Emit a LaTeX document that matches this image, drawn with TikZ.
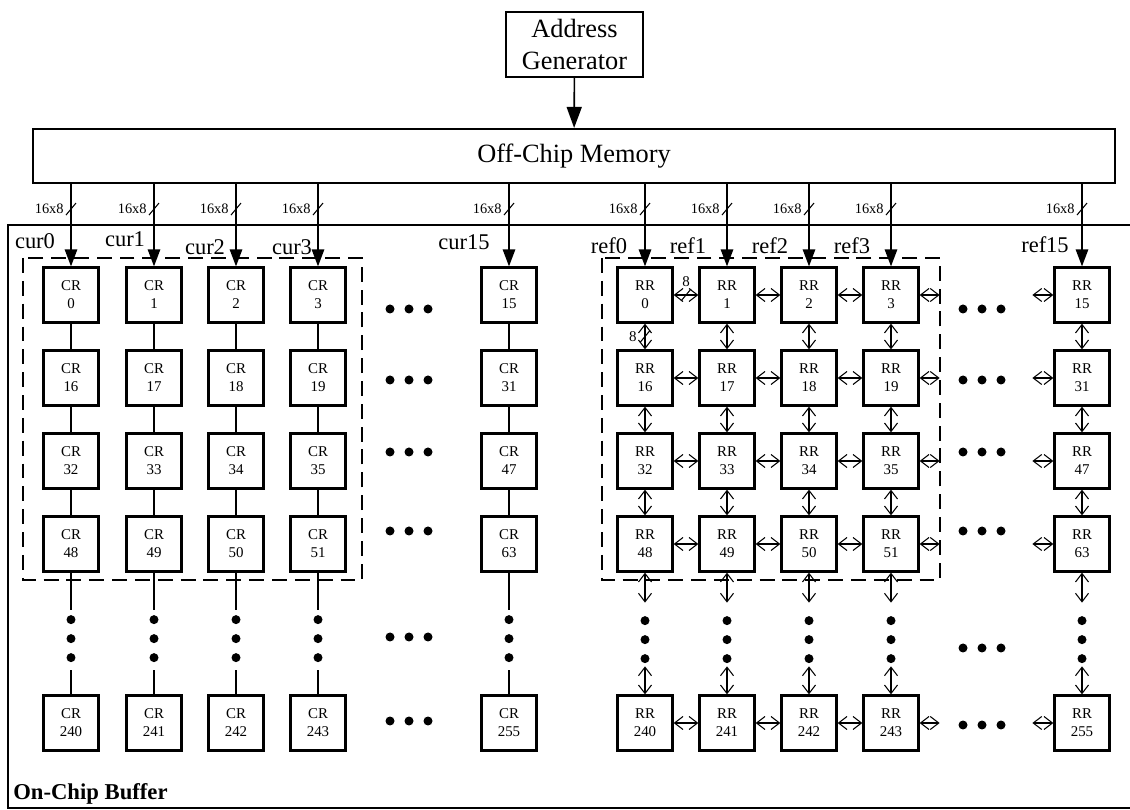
\documentclass[tikz,border=0pt]{standalone}
\usepackage{fontspec}
\setmainfont{Liberation Serif}
\usetikzlibrary{arrows.meta,positioning,calc}
\tikzset{
  cellbox/.style={draw, line width=1.3pt, minimum width=1.1cm, minimum height=1.1cm, inner sep=0pt, align=center, font=\fontsize{8.5}{10.2}\selectfont},
  bigbox/.style={draw, line width=1.2pt, inner sep=0pt, align=center, font=\fontsize{15}{18.7}\selectfont},
  bus/.style={-{Triangle[length=3.4mm,width=2.5mm]}, line width=0.8pt},
  link/.style={{Straight Barb[length=1.7mm,width=2.6mm]}-{Straight Barb[length=1.7mm,width=2.6mm]}, line width=0.6pt},
  wire/.style={line width=0.8pt},
  slash/.style={line width=0.6pt},
  group/.style={dash pattern=on 8.5pt off 4.5pt, line width=1.3pt},
  portlabel/.style={font=\fontsize{12.8}{15}\selectfont, anchor=base, inner sep=0pt},
  widthlabel/.style={font=\fontsize{8.2}{10}\selectfont, inner sep=0pt}
}

\begin{document}
\begin{tikzpicture}[x=0.02cm, y=-0.02cm]
  \useasboundingbox (0,0) rectangle (1130,810);

  \node[bigbox, minimum width=2.74cm, minimum height=1.3cm] (addr) at (574.5,44.5) {Address\\Generator};
  \node[bigbox, minimum width=21.64cm, minimum height=1.08cm] (mem) at (574,156) {Off-Chip Memory};
  \draw[-{Triangle[length=4.2mm,width=3mm]}, line width=0.9pt] (addr) -- (mem);

  % on-chip buffer frame (cut at the right)
  \draw[line width=1.3pt] (1130,225) -- (8,225) -- (8,808) -- (1130,808);
  \node[font=\bfseries\fontsize{12.9}{15}\selectfont, anchor=base west, inner sep=0pt] (bufname) at (13,800) {On-Chip Buffer};

  % current block registers
  \foreach \col/\x in {0/71,1/154,2/236,3/318,15/509}{
    \foreach \row/\y in {0/295,16/378,32/461,48/544,240/723}{
      \pgfmathtruncatemacro{\id}{\row+\col}
      \node[cellbox] (c\id) at (\x,\y) {CR\\\id};
    }
  }
  % reference block registers
  \foreach \col/\x in {0/645,1/727,2/809,3/891,15/1082}{
    \foreach \row/\y in {0/295,16/378,32/461,48/544,240/723}{
      \pgfmathtruncatemacro{\id}{\row+\col}
      \node[cellbox] (r\id) at (\x,\y) {RR\\\id};
    }
  }

  % CR chains
  \foreach \c in {0,1,2,3,15}{
    \foreach \r/\s in {0/16,16/32,32/48}{
      \pgfmathtruncatemacro{\i}{\r+\c}
      \pgfmathtruncatemacro{\j}{\s+\c}
      \draw[wire] (c\i) -- (c\j);
    }
    \pgfmathtruncatemacro{\k}{48+\c}
    \pgfmathtruncatemacro{\m}{240+\c}
    \draw[wire] (c\k.south) -- ++(0,37);
    \draw[wire] (c\m.north) -- ++(0,-24);
    \foreach \d in {47,66,85}
      \fill ($(c\k.south)+(0,\d)$) circle (0.09cm);
  }

  % RR mesh, vertical
  \foreach \c in {0,1,2,3,15}{
    \foreach \r/\s in {0/16,16/32,32/48}{
      \pgfmathtruncatemacro{\i}{\r+\c}
      \pgfmathtruncatemacro{\j}{\s+\c}
      \draw[link] (r\i) -- (r\j);
    }
    \pgfmathtruncatemacro{\k}{48+\c}
    \pgfmathtruncatemacro{\m}{240+\c}
    \draw[link] (r\k.south) -- ++(0,30);
    \draw[link] (r\m.north) -- ++(0,-28);
    \foreach \d in {48,67,86}
      \fill ($(r\k.south)+(0,\d)$) circle (0.09cm);
  }
  % RR mesh, horizontal
  \foreach \r in {0,16,32,48,240}{
    \foreach \c/\e in {0/1,1/2,2/3}{
      \pgfmathtruncatemacro{\i}{\r+\c}
      \pgfmathtruncatemacro{\j}{\r+\e}
      \draw[link] (r\i) -- (r\j);
    }
    \pgfmathtruncatemacro{\k}{\r+3}
    \pgfmathtruncatemacro{\m}{\r+15}
    \draw[link] (r\k.east) -- ++(20,0);
    \draw[link] (r\m.west) -- ++(-21,0);
  }

  % skipped columns
  \foreach \y in {309,380,452,531,637,721}
    \foreach \dx in {-19,0,19}
      \fill (409+\dx,\y) circle (0.09cm);
  \foreach \y in {309,380,452,531,648,725}
    \foreach \dx in {-19,0,19}
      \fill (982+\dx,\y) circle (0.09cm);

  % memory buses
  \foreach \n in {c0,c1,c2,c3,c15,r0,r1,r2,r3,r15}{
    \draw[bus] (mem.south -| \n) -- (\n.north);
    \draw[slash] ($(mem.south -| \n)+(-5,31)$) -- ++(10,-12);
    \node[widthlabel, anchor=east] (w\n) at ($(mem.south -| \n)+(-7,25)$) {16x8};
  }

  % 8-bit link widths
  \coordinate (hmid) at ($(r0.east)!0.5!(r1.west)$);
  \draw[slash] ($(hmid)+(-5,6)$) -- ++(10,-12);
  \node[widthlabel, font=\fontsize{8.5}{10}\selectfont] (hw) at ($(hmid)+(0,-13)$) {8};
  \coordinate (vmid) at ($(r0.south)!0.5!(r16.north)$);
  \draw[slash] ($(vmid)+(-5,6)$) -- ++(10,-12);
  \node[widthlabel, font=\fontsize{8.5}{10}\selectfont, anchor=east] (vw) at ($(vmid)+(-8,0)$) {8};

  % groups
  \draw[group] (23,258) rectangle (362,580);
  \draw[group] (602,258) rectangle (940,580);

  % port names
  \node[portlabel] (lcur0) at (35,249) {cur0};
  \node[portlabel] (lcur1) at (125,247) {cur1};
  \node[portlabel] (lcur2) at (205,255) {cur2};
  \node[portlabel] (lcur3) at (292,255) {cur3};
  \node[portlabel] (lcur15) at (464,250) {cur15};
  \node[portlabel] (lref0) at (609,254) {ref0};
  \node[portlabel] (lref1) at (688,254) {ref1};
  \node[portlabel] (lref2) at (770,254) {ref2};
  \node[portlabel] (lref3) at (852,254) {ref3};
  \node[portlabel] (lref15) at (1045,253) {ref15};
\end{tikzpicture}
\end{document}
